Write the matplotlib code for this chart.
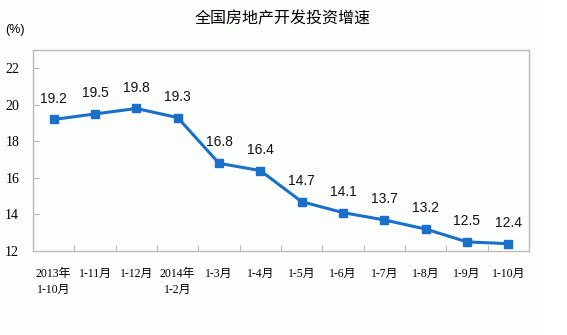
import matplotlib
matplotlib.use("Agg")
import matplotlib.pyplot as plt
from matplotlib.patches import Rectangle

categories = ["2013年\n1-10月", "1-11月", "1-12月", "2014年\n1-2月", "1-3月", "1-4月",
              "1-5月", "1-6月", "1-7月", "1-8月", "1-9月", "1-10月"]
values = [19.2, 19.5, 19.8, 19.3, 16.8, 16.4, 14.7, 14.1, 13.7, 13.2, 12.5, 12.4]
yticks = [12, 14, 16, 18, 20, 22]

fam_serif = ["Liberation Serif", "Noto Sans CJK SC"]
fam_sans = ["Liberation Sans", "Noto Sans CJK SC"]

fig = plt.figure(figsize=(5.67, 3.35), dpi=100)
fig.patch.set_facecolor("white")
fig.patches.append(Rectangle((0, 0), 540/567, 1, transform=fig.transFigure,
                             facecolor="#fcfefc", edgecolor="none", zorder=-10))
ax = fig.add_axes([33/567, 1 - 251/335, (529-33)/567, (251-50)/335])
ax.set_facecolor("#fcfefc")

color = "#1a6fc8"
x = list(range(len(values)))
ax.plot(x, values, color=color, lw=2.2, marker="s", ms=6, zorder=3)
for xi, v in zip(x, values):
    ax.annotate(f"{v}", (xi, v), xytext=(0, 10), textcoords="offset points",
                ha="center", va="bottom", fontsize=10, family=fam_sans, color="#111111")

ax.set_xlim(-0.5, len(values) - 0.5)
ax.set_ylim(12, 23)
ax.set_yticks(yticks)
ax.set_yticklabels([str(t) for t in yticks], family=fam_serif, fontsize=10)
ax.set_xticks([i + 0.5 for i in range(len(values) - 1)])
ax.set_xticklabels([])
ax.set_xticks(x, minor=True)
ax.set_xticklabels(categories, minor=True, family=fam_serif, fontsize=8.5,
                   linespacing=1.45, va="top")
for lab in ax.get_xticklabels(minor=True):
    lab.set_horizontalalignment("center")
ax.tick_params(axis="x", which="minor", length=0, pad=12)
ax.tick_params(axis="x", which="major", direction="in", length=4, color="#bbbbbb")
ax.tick_params(axis="y", direction="in", length=4, color="#bbbbbb", pad=10)
for s in ax.spines.values():
    s.set_color("#bbbbbb")
    s.set_linewidth(1)

fig.text(283/567, 1 - 19/335, "全国房地产开发投资增速", ha="center", va="center",
         fontsize=11.5, family=["Noto Sans CJK SC"])
fig.text(15/567, 1 - 30/335, "(%)", ha="center", va="center", fontsize=9,
         family=fam_sans)

fig.savefig("out.png", dpi=100)
